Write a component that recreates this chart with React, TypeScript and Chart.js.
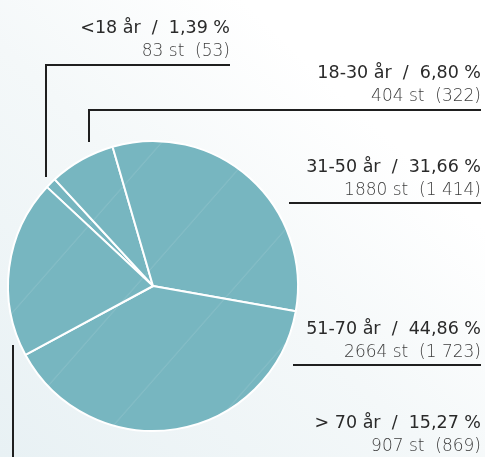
import React, { useEffect, useRef } from "react";
import { Chart, registerables } from "chart.js";

Chart.register(...registerables);

// ---- data ----
const ageGroups = ["<18 år", "18-30 år", "31-50 år", "51-70 år", "> 70 år"];
const sharePercent = ["1,39 %", "6,80 %", "31,66 %", "44,86 %", "15,27 %"];
const countCurrent = ["83 st", "404 st", "1880 st", "2664 st", "907 st"];
const countPrevious = [53, 322, 1414, 1723, 869];
const countPreviousText = ["(53)", "(322)", "(1 414)", "(1 723)", "(869)"];

// ---- callout layout (annotation positions, not data marks) ----
type Callout = { right: number; base: number; lineX0: number; lineX1: number; lineY: number; vx?: number; vy?: number };
const callouts: Callout[] = [
  { right: 230, base: 33, lineX0: 46, lineX1: 230, lineY: 65, vx: 46, vy: 177 },
  { right: 481, base: 78, lineX0: 89, lineX1: 481, lineY: 110, vx: 89, vy: 142 },
  { right: 481, base: 172, lineX0: 289, lineX1: 481, lineY: 203 },
  { right: 481, base: 334, lineX0: 293, lineX1: 481, lineY: 365 },
  { right: 481, base: 428, lineX0: 13, lineX1: 481, lineY: 461, vx: 13, vy: 345 },
];

const SLICE = "#77b6c0";

function makePattern(): CanvasPattern | string {
  const w = 100, h = 114;
  const c = document.createElement("canvas");
  c.width = w; c.height = h;
  const g = c.getContext("2d");
  if (!g) return SLICE;
  g.fillStyle = SLICE;
  g.fillRect(0, 0, w, h);
  g.strokeStyle = "rgba(255,255,255,0.22)";
  g.lineWidth = 0.8;
  g.beginPath();
  g.moveTo(-w * 0.2, h * 1.2);
  g.lineTo(w * 1.2, -h * 0.2);
  g.stroke();
  const ctx = document.createElement("canvas").getContext("2d")!;
  const p = ctx.createPattern(c, "repeat");
  if (!p) return SLICE;
  try { p.setTransform(new DOMMatrix().translate(86.6, 0)); } catch (e) {}
  return p;
}

const calloutPlugin = {
  id: "callouts",
  afterDraw(chart: any) {
    const ctx = chart.ctx as CanvasRenderingContext2D;
    ctx.save();
    ctx.strokeStyle = "#1f1f1f";
    ctx.lineWidth = 2;
    callouts.forEach((c) => {
      ctx.beginPath();
      ctx.moveTo(c.lineX1, c.lineY);
      ctx.lineTo(c.lineX0, c.lineY);
      if (c.vx !== undefined && c.vy !== undefined) {
        ctx.moveTo(c.vx, c.lineY - 1);
        ctx.lineTo(c.vx, c.vy);
      }
      ctx.stroke();
    });
    ctx.textAlign = "right";
    ctx.textBaseline = "alphabetic";
    ageGroups.forEach((g, i) => {
      const c = callouts[i];
      ctx.fillStyle = "#2a2a2a";
      ctx.font = '400 17.5px "DejaVu Sans"';
      ctx.fillText(`${g}  /  ${sharePercent[i]}`, c.right, c.base);
      ctx.fillStyle = "#3c3c3c";
      ctx.font = '200 17px "DejaVu Sans"';
      ctx.fillText(`${countCurrent[i]}  ${countPreviousText[i]}`, c.right, c.base + 22.5);
    });
    ctx.restore();
  },
};

export default function App() {
  const ref = useRef<HTMLCanvasElement>(null);
  useEffect(() => {
    if (!ref.current) return;
    const fill = makePattern();
    const chart = new Chart(ref.current, {
      type: "pie",
      data: {
        labels: ageGroups,
        datasets: [
          {
            data: countPrevious,
            backgroundColor: fill as any,
            borderColor: "#ffffff",
            borderWidth: 2,
            hoverOffset: 0,
          },
        ],
      },
      options: {
        responsive: false,
        maintainAspectRatio: false,
        animation: false,
        rotation: -47,
        layout: { padding: { left: 7, right: 186, top: 140, bottom: 25 } },
        events: [],
        plugins: {
          legend: { display: false },
          tooltip: { enabled: false },
        },
      },
      plugins: [calloutPlugin],
    });
    return () => chart.destroy();
  }, []);
  return (
    <div
      style={{
        position: "fixed",
        left: 0,
        top: 0,
        width: 485,
        height: 457,
        background: "linear-gradient(to top right, #e8f1f4 0%, #f4f8f9 45%, #ffffff 75%)",
      }}
    >
      <canvas ref={ref} width={485} height={457} style={{ display: "block" }} />
    </div>
  );
}
